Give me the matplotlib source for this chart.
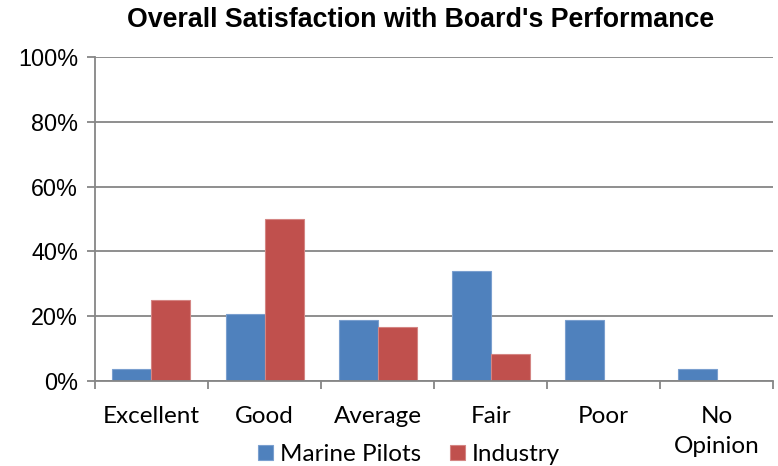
import numpy as np
import matplotlib.pyplot as plt
from matplotlib.ticker import FixedLocator, NullFormatter, FuncFormatter

# Datos
categorias = ['Excellent', 'Good', 'Average', 'Fair', 'Poor', 'No\nOpinion']
marine_pilots = [0.038, 0.208, 0.189, 0.340, 0.189, 0.038]
industry = [0.25, 0.50, 0.167, 0.083, 0.0, 0.0]
yticks = [0, 0.2, 0.4, 0.6, 0.8, 1.0]

azul = '#4F81BD'
rojo = '#C0504D'
gris = '#868686'

fig = plt.figure(figsize=(7.78, 4.66), dpi=100)
ax = fig.add_axes([0.122, 0.182, 0.872, 0.696])

x = np.arange(len(categorias)) + 0.5
ancho = 0.345
ax.bar(x - ancho / 2, marine_pilots, ancho, color=azul, edgecolor='#7A9FCF', linewidth=0.8,
       label='Marine Pilots', zorder=2)
ax.bar(x + ancho / 2, industry, ancho, color=rojo, edgecolor='#D48583', linewidth=0.8,
       label='Industry', zorder=2)

ax.set_xlim(0, len(categorias))
ax.set_ylim(0, 1.0)
ax.set_yticks(yticks)
ax.yaxis.set_major_formatter(FuncFormatter(lambda v, p: f'{v:.0%}'))
ax.yaxis.grid(True, color=gris, linewidth=1.3, zorder=0)
ax.set_axisbelow(True)

# marcas en los limites de categoria, etiquetas en el centro
ax.xaxis.set_major_locator(FixedLocator(np.arange(len(categorias) + 1)))
ax.xaxis.set_major_formatter(NullFormatter())
ax.xaxis.set_minor_locator(FixedLocator(x))
ax.set_xticklabels(categorias, minor=True, fontfamily='Lato', fontsize=17.5, linespacing=1.5)
ax.tick_params(axis='x', which='minor', length=0, pad=18)
ax.tick_params(axis='x', which='major', length=6, width=1.3, color=gris)
ax.tick_params(axis='y', length=6, width=1.3, color=gris, labelsize=16.8, pad=6)
for lbl in ax.get_yticklabels():
    lbl.set_fontfamily('Liberation Sans')

for s in ['top', 'right']:
    ax.spines[s].set_visible(False)
for s in ['left', 'bottom']:
    ax.spines[s].set_color(gris)
    ax.spines[s].set_linewidth(1.3)

fig.suptitle("Overall Satisfaction with Board's Performance", x=0.54, y=0.985,
             fontfamily='Liberation Sans', fontweight='bold', fontsize=19.3)

fig.legend(loc='lower center', bbox_to_anchor=(0.526, -0.045), ncol=2, frameon=False,
           prop={'family': 'Lato', 'size': 17.5}, handlelength=0.6, handleheight=0.6,
           handletextpad=0.3, columnspacing=1.2)

fig.savefig('out.png', dpi=100)
